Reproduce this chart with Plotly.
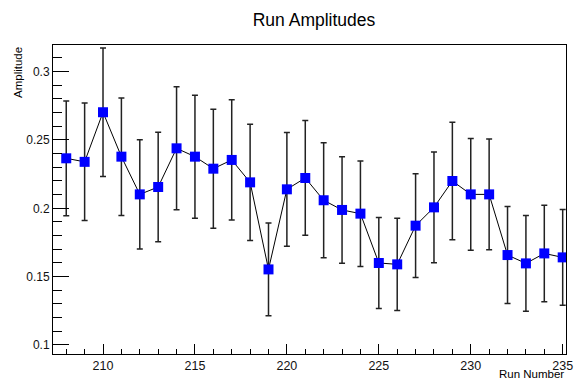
import plotly.graph_objects as go

run_numbers = list(range(208, 236))
amplitudes = [0.2366, 0.2340, 0.2703, 0.2378, 0.2102, 0.2156, 0.2439, 0.2378,
              0.2290, 0.2354, 0.2190, 0.1553, 0.2139, 0.2222, 0.2059, 0.1988,
              0.1961, 0.1600, 0.1590, 0.1873, 0.2007, 0.2200, 0.2102, 0.2102,
              0.1658, 0.1597, 0.1670, 0.1641]
errors = [0.042, 0.043, 0.047, 0.043, 0.040, 0.040, 0.045, 0.045,
          0.0435, 0.044, 0.0425, 0.034, 0.0416, 0.042, 0.042, 0.039,
          0.0386, 0.0333, 0.0337, 0.038, 0.0405, 0.043, 0.0408, 0.0405,
          0.0355, 0.035, 0.0353, 0.035]
y_tickvals = [0.1, 0.15, 0.2, 0.25, 0.3]
y_ticktext = ["0.1", "0.15", "0.2", "0.25", "0.3"]
x_tickvals = [210, 215, 220, 225, 230, 235]
x_ticktext = ["210", "215", "220", "225", "230", "235"]

FONT = "Liberation Sans, Arial, Helvetica, sans-serif"

fig = go.Figure()
fig.add_trace(go.Scatter(
    x=run_numbers, y=amplitudes,
    mode="lines+markers",
    line=dict(color="black", width=1),
    marker=dict(symbol="square", size=10, color="#0000ff", line=dict(width=0)),
    error_y=dict(type="data", array=errors, visible=True,
                 color="#222222", thickness=1.5, width=3),
    showlegend=False,
))

fig.update_layout(
    width=575, height=379,
    margin=dict(l=53, r=2, t=45, b=25),
    paper_bgcolor="white", plot_bgcolor="white",
    font=dict(family=FONT, color="black"),
    title=dict(text="Run Amplitudes", x=314/575, xanchor="center",
               y=1 - 20/379, yanchor="middle", xref="container", yref="container",
               font=dict(size=17.5, family=FONT, color="black")),
    xaxis=dict(range=[207.28, 235.18], showgrid=False, zeroline=False,
               showline=True, linecolor="black", linewidth=1, mirror=True,
               tickmode="array", tickvals=x_tickvals, ticktext=x_ticktext,
               ticks="inside", ticklen=10, tickcolor="black", tickwidth=1,
               ticklabeloverflow="allow",
               minor=dict(ticks="inside", ticklen=5, dtick=1, tick0=210,
                          tickcolor="black", tickwidth=1, showgrid=False),
               tickfont=dict(size=12.5, family=FONT, color="#111")),
    yaxis=dict(range=[0.0934, 0.3195], showgrid=False, zeroline=False,
               showline=True, linecolor="black", linewidth=1, mirror=True,
               tickmode="array", tickvals=y_tickvals, ticktext=y_ticktext,
               ticks="inside", ticklen=16, tickcolor="black", tickwidth=1,
               minor=dict(ticks="inside", ticklen=9, dtick=0.01, tick0=0.1,
                          tickcolor="black", tickwidth=1, showgrid=False),
               tickfont=dict(size=12, family=FONT, color="#111")),
    annotations=[
        dict(text="Amplitude", textangle=-90, xref="paper", yref="paper",
             x=(17 - 53) / 520, y=1.0, xanchor="center", yanchor="top",
             showarrow=False, font=dict(size=11.5, family=FONT, color="black")),
        dict(text="Run Number", xref="paper", yref="paper",
             x=1.0, y=(354 - 374) / 309, xanchor="right", yanchor="middle",
             showarrow=False, font=dict(size=11.5, family=FONT, color="black")),
    ],
)

fig.write_html("out.html",
               config={"displayModeBar": False},
               post_script="document.body.style.margin='0';document.body.style.overflow='hidden';")
